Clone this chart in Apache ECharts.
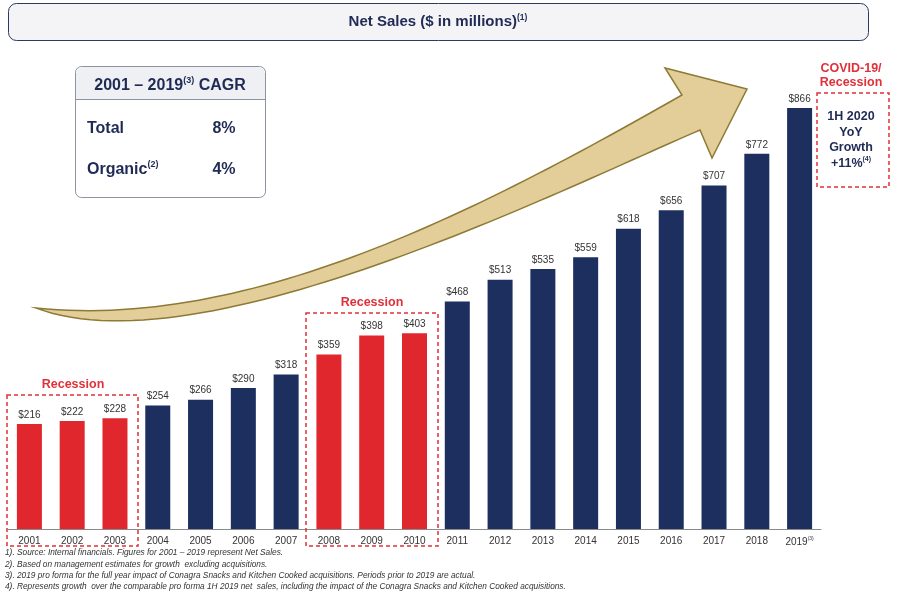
<!DOCTYPE html>
<html><head><meta charset="utf-8">
<script src="https://cdn.jsdelivr.net/npm/echarts@6/dist/echarts.min.js"></script>
<style>html,body{margin:0;padding:0;background:#fff}#c{width:897px;height:602px}</style>
</head><body><div id="c"></div>
<script>
const years = ['2001','2002','2003','2004','2005','2006','2007','2008','2009','2010','2011','2012','2013','2014','2015','2016','2017','2018','2019'];
const netSales = [216,222,228,254,266,290,318,359,398,403,468,513,535,559,618,656,707,772,866];
const recessionYears = ['2001','2002','2003','2008','2009','2010'];
const yearFootnote = {'2019':'(3)'};
const cagrRows = [['Total','','8%'],['Organic','(2)','4%']];
const covidLines = ['1H 2020','YoY','Growth','+11%'];
const footnotes = [
  '1). Source: Internal financials. Figures for 2001 \u2013 2019 represent Net Sales.',
  '2). Based on management estimates for growth  excluding acquisitions.',
  '3). 2019 pro forma for the full year impact of Conagra Snacks and Kitchen Cooked acquisitions. Periods prior to 2019 are actual.',
  '4). Represents growth  over the comparable pro forma 1H 2019 net  sales, including the impact of the Conagra Snacks and Kitchen Cooked acquisitions.'
];

const NAVY = '#1c2f5f';
const RED = '#e1272e';
const TXT = '#1f2a55';
const FONT = 'Liberation Sans, Arial, sans-serif';

const chart = echarts.init(document.getElementById('c'));

function cubic(p0,p1,p2,p3,n){
  const pts=[];
  for(let i=0;i<=n;i++){
    const t=i/n, u=1-t;
    const a=u*u*u, b=3*u*u*t, c=3*u*t*t, d=t*t*t;
    pts.push([a*p0[0]+b*p1[0]+c*p2[0]+d*p3[0], a*p0[1]+b*p1[1]+c*p2[1]+d*p3[1]]);
  }
  return pts;
}
const arrowPts = [].concat(
  cubic([36,308],[250,330],[480,210],[682,95],60),
  [[665,68],[747,89],[712,158]],
  cubic([700,130],[560,190],[200,370],[36,308],60).slice(0,-1)
);

const graphics = [];
graphics.push({type:'rect', z:1, shape:{x:8.5,y:3.5,width:860,height:37,r:8},
  style:{fill:'#f4f4f7', stroke:'#2b3a63', lineWidth:1}});
graphics.push({type:'text', z:2, x:438, y:22, style:{
  text:'{t|Net Sales ($ in millions)}{s|(1)}', align:'center', verticalAlign:'middle',
  rich:{t:{fontSize:15, fontWeight:'bold', fill:TXT, fontFamily:'Liberation Sans Narrow, '+FONT, lineHeight:18, verticalAlign:'middle'},
        s:{fontSize:8.5, fontWeight:'bold', fill:TXT, fontFamily:FONT, lineHeight:18, verticalAlign:'top'}}}});

graphics.push({type:'polygon', z:0, shape:{points:arrowPts},
  style:{fill:'#e3cd98', stroke:'#8c7a35', lineWidth:1.5}});

graphics.push({type:'rect', z:5, shape:{x:75.5,y:66.5,width:190,height:131,r:6},
  style:{fill:'#fff', stroke:'#8d93a3', lineWidth:1}});
graphics.push({type:'rect', z:6, shape:{x:76,y:67,width:189,height:32,r:[6,6,0,0]},
  style:{fill:'#eef0f4'}});
graphics.push({type:'line', z:7, shape:{x1:76,y1:99.5,x2:265,y2:99.5},
  style:{stroke:'#8d93a3', lineWidth:1}});
graphics.push({type:'text', z:8, x:170, y:86, style:{
  text:'{t|2001 \u2013 2019}{s|(3)}{t| CAGR}', align:'center', verticalAlign:'middle',
  rich:{t:{fontSize:16, fontWeight:'bold', fill:TXT, fontFamily:FONT, lineHeight:20, verticalAlign:'middle'},
        s:{fontSize:9, fontWeight:'bold', fill:TXT, fontFamily:FONT, lineHeight:20, verticalAlign:'top'}}}});
cagrRows.forEach((r,i)=>{
  const y = 129 + i*41;
  graphics.push({type:'text', z:8, x:87, y:y, style:{
    text:'{t|'+r[0]+'}'+(r[1]?'{s|'+r[1]+'}':''), align:'left', verticalAlign:'middle',
    rich:{t:{fontSize:16, fontWeight:'bold', fill:TXT, fontFamily:FONT, lineHeight:20, verticalAlign:'middle'},
          s:{fontSize:9, fontWeight:'bold', fill:TXT, fontFamily:FONT, lineHeight:20, verticalAlign:'top'}}}});
  graphics.push({type:'text', z:8, x:224, y:y, style:{text:r[2], align:'center', verticalAlign:'middle',
    fontSize:16, fontWeight:'bold', fill:TXT, fontFamily:FONT}});
});

function dashBox(x,y,w,h){
  graphics.push({type:'rect', z:9, shape:{x:x,y:y,width:w,height:h},
    style:{fill:'none', stroke:'#e0303a', lineWidth:1.5, lineDash:[4,3]}});
}
function redLabel(x,y,t){
  graphics.push({type:'text', z:9, x:x, y:y, style:{text:t, align:'center', verticalAlign:'middle',
    fontSize:12.5, fontWeight:'bold', fill:'#e0303a', fontFamily:FONT}});
}
dashBox(7,395,131,151); redLabel(73,385,'Recession');
dashBox(306,313,132,233); redLabel(372,303,'Recession');
dashBox(817,93,72,94); redLabel(851,69,'COVID-19/'); redLabel(851,83,'Recession');
covidLines.forEach((t,i)=>{
  const last = i===covidLines.length-1;
  graphics.push({type:'text', z:9, x:851, y:117+i*15.5, style:{
    text:'{t|'+t+'}'+(last?'{s|(4)}':''), align:'center', verticalAlign:'middle',
    rich:{t:{fontSize:12.5, fontWeight:'bold', fill:TXT, fontFamily:FONT, lineHeight:15, verticalAlign:'middle'},
          s:{fontSize:7, fontWeight:'bold', fill:TXT, fontFamily:FONT, lineHeight:15, verticalAlign:'top'}}}});
});

footnotes.forEach((t,i)=>{
  graphics.push({type:'text', z:9, x:5, y:553+i*11.3, style:{text:t, align:'left', verticalAlign:'middle',
    fontSize:8.3, fontStyle:'italic', fill:'#333', fontFamily:FONT}});
});

chart.setOption({
  animation:false,
  backgroundColor:'#fff',
  grid:{left:8, right:76, top:43, bottom:73},
  xAxis:{type:'category', data:years,
    axisLine:{lineStyle:{color:'#8a8a8a', width:1}},
    axisTick:{show:false},
    axisLabel:{interval:0, margin:7, color:'#333', fontSize:10, fontFamily:FONT,
      formatter:(v)=> yearFootnote[v] ? v+'{s|'+yearFootnote[v]+'}' : v,
      rich:{s:{fontSize:5, color:'#333', verticalAlign:'top', lineHeight:12}}}},
  yAxis:{type:'value', min:0, max:1000, show:false, splitLine:{show:false}},
  series:[{type:'bar', barWidth:25,
    data:netSales.map((v,i)=>({value:v, itemStyle:{color: recessionYears.includes(years[i]) ? RED : NAVY}})),
    label:{show:true, position:'top', distance:4, color:'#333', fontSize:10, fontFamily:FONT,
      formatter:(p)=>'$'+p.value}
  }],
  graphic:graphics
});
</script>
</body></html>
